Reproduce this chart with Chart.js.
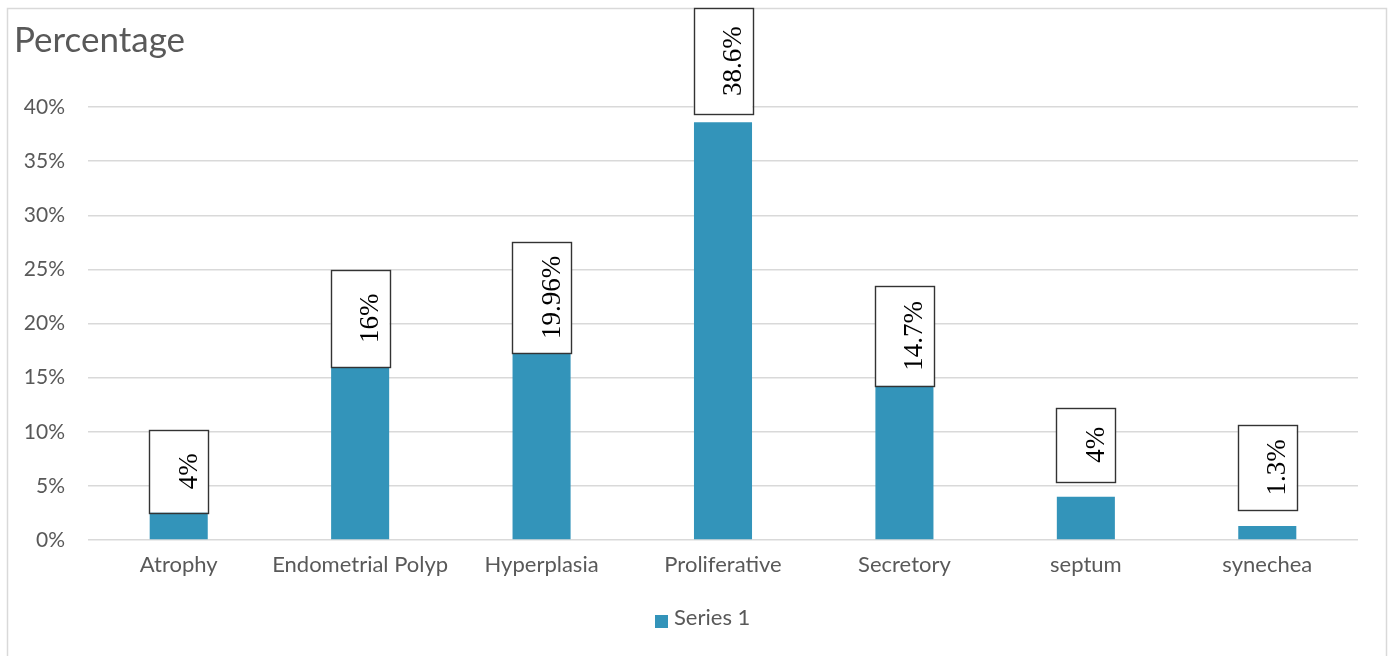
<!DOCTYPE html>
<html>
<head>
<meta charset="utf-8">
<script src="https://cdn.jsdelivr.net/npm/chart.js@4/dist/chart.umd.min.js"></script>
<style>
  html, body { margin: 0; padding: 0; background: #fff; }
  #wrap { width: 1395px; height: 656px; position: relative; }
</style>
</head>
<body>
<div id="wrap"><canvas id="c" width="1395" height="656"></canvas></div>
<script>
// ---- data ----
const categories = ['Atrophy', 'Endometrial Polyp', 'Hyperplasia', 'Proliferative', 'Secretory', 'septum', 'synechea'];
const seriesName = 'Series 1';
const percentages = [4, 16, 19.96, 38.6, 14.7, 4, 1.3];
const valueLabels = ['4%', '16%', '19.96%', '38.6%', '14.7%', '4%', '1.3%'];
const yTickValues = [0, 5, 10, 15, 20, 25, 30, 35, 40];
const axisTitle = 'Percentage';

// ---- styling ----
const BAR_COLOR = '#3394ba';
const GRID_COLOR = '#d9d9d9';
const TEXT_COLOR = '#595959';
const SANS = 'Lato, "Open Sans", sans-serif';

// Boxed, rotated value labels: box height and how far the box bottom sits below the bar top
const labelBoxHeights = [83, 97, 111, 106, 100, 74, 85];
const labelBoxDrop = [16, 0, 29, -8, 5, -15, -16];

const framePlugin = {
  id: 'frame',
  beforeDraw(chart) {
    const ctx = chart.ctx;
    ctx.save();
    ctx.fillStyle = '#fff';
    ctx.fillRect(0, 0, chart.width, chart.height);
    ctx.strokeStyle = GRID_COLOR;
    ctx.lineWidth = 1.5;
    ctx.strokeRect(7.5, 8.5, 1379, 660);
    ctx.restore();
  },
  afterDraw(chart) {
    const ctx = chart.ctx;
    ctx.save();
    // axis title, top-left
    ctx.fillStyle = TEXT_COLOR;
    ctx.font = '35px ' + SANS;
    ctx.textBaseline = 'alphabetic';
    ctx.textAlign = 'left';
    ctx.fillText(axisTitle, 14, 52);
    // legend below the category labels, sitting a little left of centre
    const legendY = 618;
    ctx.font = '22px ' + SANS;
    const box = 13;
    const gap = 6;
    const x0 = (chart.chartArea.left + chart.chartArea.right) / 2 - 68;
    ctx.fillStyle = BAR_COLOR;
    ctx.fillRect(x0, legendY - 3, box, box);
    ctx.fillStyle = TEXT_COLOR;
    ctx.textBaseline = 'middle';
    ctx.fillText(seriesName, x0 + box + gap, legendY);
    ctx.restore();
  }
};

const valueBoxPlugin = {
  id: 'valueBoxes',
  afterDatasetsDraw(chart) {
    const ctx = chart.ctx;
    const meta = chart.getDatasetMeta(0);
    ctx.save();
    meta.data.forEach((bar, i) => {
      const w = 59;
      const h = labelBoxHeights[i];
      const bottom = bar.y + labelBoxDrop[i];
      const left = bar.x - w / 2;
      const top = bottom - h;
      ctx.fillStyle = '#fff';
      ctx.fillRect(left, top, w, h);
      ctx.strokeStyle = '#333';
      ctx.lineWidth = 1.4;
      ctx.strokeRect(Math.round(left) + 0.5, Math.round(top) + 0.5, w, h);
      // rotated text, reading bottom to top
      ctx.save();
      ctx.translate(bar.x + 18, top + h / 2);
      ctx.rotate(-Math.PI / 2);
      ctx.fillStyle = '#000';
      ctx.font = '27px "Liberation Serif", "Times New Roman", serif';
      ctx.textAlign = 'center';
      ctx.textBaseline = 'alphabetic';
      ctx.fillText(valueLabels[i], 0, 0);
      ctx.restore();
    });
    ctx.restore();
  }
};

new Chart(document.getElementById('c'), {
  type: 'bar',
  data: {
    labels: categories,
    datasets: [{
      label: seriesName,
      data: percentages,
      backgroundColor: BAR_COLOR,
      borderWidth: 0,
      categoryPercentage: 1,
      barPercentage: 0.32
    }]
  },
  options: {
    responsive: false,
    animation: false,
    devicePixelRatio: 1,
    layout: { padding: { top: 107, right: 37, left: 0, bottom: 0 } },
    plugins: {
      legend: { display: false },
      title: { display: false },
      tooltip: { enabled: false }
    },
    scales: {
      x: {
        grid: { display: false, drawTicks: false },
        border: { display: false },
        ticks: { color: TEXT_COLOR, font: { family: SANS, size: 22 }, padding: 12, maxRotation: 0 },
        afterFit(scale) { scale.height = 116; }
      },
      y: {
        min: 0,
        max: 40,
        afterBuildTicks(scale) { scale.ticks = yTickValues.map(v => ({ value: v })); },
        grid: { color: GRID_COLOR, lineWidth: 1.5, drawTicks: false },
        border: { display: false },
        ticks: {
          color: TEXT_COLOR,
          font: { family: SANS, size: 21 },
          padding: 23,
          callback: v => v + '%'
        },
        afterFit(scale) { scale.width = 88; }
      }
    }
  },
  plugins: [framePlugin, valueBoxPlugin]
});
</script>
</body>
</html>
